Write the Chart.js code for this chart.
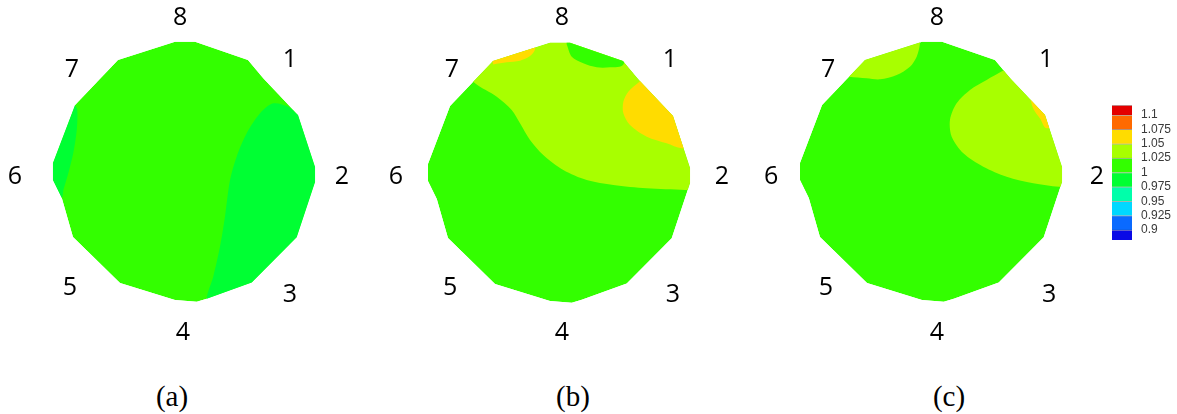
<!DOCTYPE html>
<html>
<head>
<meta charset="utf-8">
<script src="https://cdn.jsdelivr.net/npm/chart.js@4.4.0/dist/chart.umd.min.js"></script>
<style>
body{margin:0;background:#fff;width:1177px;height:414px;position:relative;overflow:hidden}
.panel{position:absolute;width:390px;height:390px}
.cap{position:absolute;top:381px;font:29px "Liberation Serif","Times New Roman",serif;line-height:31px;color:#000;transform:translateX(-50%)}
#barbox{position:absolute;left:1112px;top:97px;width:80px;height:151px}
</style>
</head>
<body>
<div class="panel" style="left:-11px;top:-23px"><canvas id="pa"></canvas></div>
<div class="panel" style="left:364px;top:-22px"><canvas id="pb"></canvas></div>
<div class="panel" style="left:736px;top:-23px"><canvas id="pc"></canvas></div>
<div id="barbox"><canvas id="cbar"></canvas></div>
<div class="cap" style="left:172px">(a)</div>
<div class="cap" style="left:573px">(b)</div>
<div class="cap" style="left:949px">(c)</div>
<script>
// colour levels (bottom to top) and the ticks between them
const levelTicks = [0.9, 0.925, 0.95, 0.975, 1, 1.025, 1.05, 1.075, 1.1];
const levelColors = ['#0a0ae6', '#0a6aff', '#00d8ff', '#00ffaa', '#00ff33', '#33ff00', '#a8ff00', '#ffdc00', '#ff6a00', '#e40000'];
const levelMin = 0.8825, levelMax = 1.1175;

// port numbers round the section
const portLabels = ['8', '1', '2', '3', '4', '5', '6', '7'];

// section outline (unit radius, y up)
const outline = [[-0.069,1.002],[0.085,1.002],[0.492,0.862],[0.608,0.723],[0.877,0.438],[1.008,0.038],[1.008,-0.077],
  [0.867,-0.502],[0.521,-0.85],[0.175,-0.975],[0.098,-0.998],[-0.069,-0.985],[-0.492,-0.854],[-0.854,-0.5],
  [-0.94,-0.2],[-1.008,-0.062],[-1.008,0.069],[-0.838,0.515],[-0.508,0.862]];

// (a) contour regions
const aRight = [[0.879,0.438],[0.802,0.502],[0.687,0.528],[0.585,0.452],[0.482,0.298],[0.405,0.118],[0.354,-0.062],
  [0.315,-0.344],[0.277,-0.574],[0.225,-0.805],[0.175,-0.975],[0.2,-1.4],[1.4,-1.4],[1.4,0.43],[1.1,0.44]];
const aLeft = [[-0.838,0.515],[-0.821,0.477],[-0.825,0.323],[-0.852,0.144],[-0.89,-0.01],[-0.928,-0.138],[-0.945,-0.2],
  [-1.4,-0.2],[-1.4,0.55],[-0.9,0.58]];

// (b) contour regions
const bUpper = [[0.969,-0.131],[0.675,-0.118],[0.418,-0.092],[0.213,-0.054],[0.033,0.023],[-0.121,0.138],[-0.223,0.254],
  [-0.3,0.382],[-0.364,0.485],[-0.479,0.587],[-0.646,0.69],[-1.2,1.2],[1.4,1.4],[1.4,-0.131]];
const bTopGreen = [[0.059,0.99],[0.098,0.895],[0.187,0.844],[0.29,0.813],[0.392,0.813],[0.495,0.835],[0.6,1.2],[0.05,1.3]];
const bTopYellow = [[-0.505,0.835],[-0.402,0.851],[-0.3,0.864],[-0.223,0.9],[-0.185,0.95],[-0.15,1.3],[-0.6,1.1]];
const bRightYellow = [[0.623,0.705],[0.533,0.625],[0.495,0.548],[0.495,0.459],[0.546,0.369],[0.675,0.279],[0.828,0.228],
  [0.944,0.19],[1.3,0.19],[1.3,1.0],[0.8,1.0]];

// (c) contour regions
const cUpperLeft = [[-0.63,0.733],[-0.495,0.721],[-0.392,0.713],[-0.264,0.746],[-0.162,0.81],[-0.11,0.887],[-0.085,0.99],
  [-0.08,1.3],[-0.8,1.0]];
const cRight = [[0.556,0.78],[0.428,0.708],[0.3,0.631],[0.197,0.528],[0.146,0.4],[0.159,0.272],[0.249,0.144],[0.402,0.041],
  [0.582,-0.036],[0.787,-0.087],[0.985,-0.113],[1.4,-0.113],[1.4,1.0],[0.75,1.0]];
const cSliver = [[0.762,0.567],[0.79,0.48],[0.84,0.41],[0.89,0.336],[1.2,0.4],[1.0,0.7]];

const panels = [
  { id: 'pa', regions: [[aRight, 4], [aLeft, 4]],
    labelPos: [[-0.03,1.185],[0.815,0.862],[1.215,-0.038],[0.815,-0.946],[-0.008,-1.238],[-0.877,-0.894],[-1.3,-0.038],[-0.863,0.785]] },
  { id: 'pb', regions: [[bTopGreen, 5], [bTopYellow, 7], [bRightYellow, 7], [bUpper, 6]],
    labelPos: [[0.023,1.192],[0.854,0.869],[1.254,-0.031],[0.877,-0.938],[0.023,-1.231],[-0.838,-0.885],[-1.254,-0.031],[-0.823,0.792]] },
  { id: 'pc', regions: [[cSliver, 7], [cUpperLeft, 6], [cRight, 6]],
    labelPos: [[0.046,1.185],[0.885,0.862],[1.277,-0.038],[0.908,-0.946],[0.046,-1.238],[-0.808,-0.892],[-1.23,-0.038],[-0.792,0.785]] }
];

const toXY = pts => pts.map(([x, y]) => ({x, y}));

const clipToOutline = {
  id: 'clipToOutline',
  beforeDatasetsDraw(chart) {
    const {ctx, scales: {x, y}} = chart;
    ctx.save();
    ctx.beginPath();
    outline.forEach(([u, v], i) => {
      const px = x.getPixelForValue(u), py = y.getPixelForValue(v);
      if (i) ctx.lineTo(px, py); else ctx.moveTo(px, py);
    });
    ctx.closePath();
    ctx.clip();
  },
  afterDatasetsDraw(chart) {
    chart.ctx.restore();
  }
};

const portText = {
  id: 'portText',
  afterDraw(chart, args, opts) {
    const {ctx, scales: {x, y}} = chart;
    ctx.save();
    ctx.font = '25px "Open Sans", "Liberation Sans", sans-serif';
    ctx.fillStyle = '#000';
    ctx.textAlign = 'center';
    ctx.textBaseline = 'middle';
    portLabels.forEach((t, i) => {
      const [u, v] = opts.pos[i];
      ctx.fillText(t, x.getPixelForValue(u), y.getPixelForValue(v));
    });
    ctx.restore();
  }
};

panels.forEach(p => {
  const datasets = p.regions.map(([pts, lvl], i) => ({
    data: toXY(pts),
    backgroundColor: levelColors[lvl],
    borderColor: 'rgba(0,0,0,0)',
    borderWidth: 0,
    pointRadius: 0,
    tension: 0.3,
    fill: 'shape',
    order: i + 1
  }));
  datasets.push({
    data: toXY(outline),
    backgroundColor: levelColors[5],
    borderColor: 'rgba(0,0,0,0)',
    borderWidth: 0,
    pointRadius: 0,
    tension: 0,
    fill: 'shape',
    order: 50
  });

  new Chart(document.getElementById(p.id), {
    type: 'line',
    data: { datasets },
    options: {
      animation: false,
      responsive: true,
      maintainAspectRatio: false,
      devicePixelRatio: 1,
      layout: { padding: 0 },
      scales: {
        x: { type: 'linear', min: -1.5, max: 1.5, display: false },
        y: { type: 'linear', min: -1.5, max: 1.5, display: false }
      },
      plugins: {
        legend: { display: false },
        tooltip: { enabled: false },
        portText: { pos: p.labelPos }
      }
    },
    plugins: [clipToOutline, portText]
  });
});

// colour bar
const bounds = [levelMin, ...levelTicks, levelMax];
new Chart(document.getElementById('cbar'), {
  type: 'bar',
  data: {
    labels: [''],
    datasets: levelColors.map((c, i) => ({
      data: [[bounds[i], bounds[i + 1]]],
      backgroundColor: c,
      borderColor: 'rgba(40,40,40,0.35)',
      borderWidth: { top: 1, bottom: 0, left: 0, right: 0 },
      borderSkipped: false,
      grouped: false,
      barPercentage: 1,
      categoryPercentage: 1
    }))
  },
  options: {
    animation: false,
    responsive: true,
    maintainAspectRatio: false,
    devicePixelRatio: 1,
    layout: { padding: { top: 8, bottom: 8, left: 0, right: 0 } },
    scales: {
      x: { display: false },
      y: {
        position: 'right',
        min: levelMin,
        max: levelMax,
        grid: { display: false, drawTicks: false },
        border: { display: false },
        afterBuildTicks: axis => { axis.ticks = levelTicks.map(value => ({ value })); },
        afterFit: axis => {
          axis.width = 60;
          axis.paddingTop = 0;
          axis.paddingBottom = 0;
        },
        ticks: {
          autoSkip: false,
          padding: 9,
          color: '#3a3a3a',
          font: { family: '"Liberation Sans", Arial, sans-serif', size: 12 },
          callback: v => String(+v.toFixed(3))
        }
      }
    },
    plugins: { legend: { display: false }, tooltip: { enabled: false } }
  }
});
</script>
</body>
</html>
